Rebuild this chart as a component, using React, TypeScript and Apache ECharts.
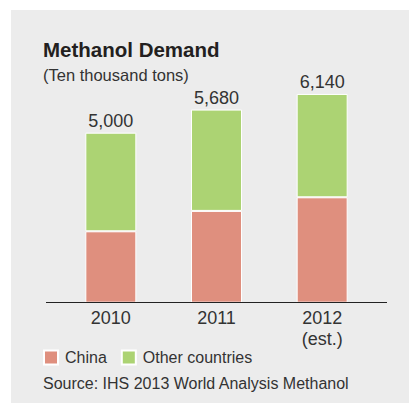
import React, { useEffect, useRef } from "react";
import * as echarts from "echarts";

const categories = ["2010", "2011", "2012\n(est.)"];
const chinaValues = [2100, 2700, 3100];
const otherValues = [2900, 2980, 3040];
const totalValues = [5000, 5680, 6140];
const seriesNames = ["China", "Other countries"];

const FONT = "'Liberation Sans', Arial, Helvetica, sans-serif";
const TEXT = "#333333";

export default function App() {
  const ref = useRef<HTMLDivElement>(null);
  useEffect(() => {
    if (!ref.current) return;
    const chart = echarts.init(ref.current, null, { renderer: "svg" });
    chart.setOption({
      animation: false,
      backgroundColor: "#ffffff",
      textStyle: { fontFamily: FONT },
      grid: { left: 58, width: 317, top: 64.7, height: 238 },
      legend: {
        data: seriesNames,
        left: 43,
        top: 349.5,
        padding: 0,
        itemWidth: 14,
        itemHeight: 14,
        itemGap: 14,
        icon: "rect",
        textStyle: { fontSize: 16, color: TEXT, fontFamily: FONT, padding: [0, 0, 0, 2] },
      },
      xAxis: {
        type: "category",
        data: categories,
        axisLine: { show: false },
        axisTick: { show: false },
        axisLabel: { fontSize: 18, color: TEXT, lineHeight: 21, margin: 5, fontFamily: FONT },
      },
      yAxis: { type: "value", min: 0, max: 7000, show: false, splitLine: { show: false } },
      series: [
        {
          name: seriesNames[0],
          type: "bar",
          stack: "total",
          data: chinaValues,
          barWidth: 51,
          itemStyle: { color: "#df8f7e", borderColor: "#ffffff", borderWidth: 1 },
        },
        {
          name: seriesNames[1],
          type: "bar",
          stack: "total",
          data: otherValues,
          barWidth: 51,
          itemStyle: { color: "#acd373", borderColor: "#ffffff", borderWidth: 1 },
          label: {
            show: true,
            position: "top",
            distance: 3,
            fontSize: 18,
            color: TEXT,
            fontFamily: FONT,
            formatter: (p: any) => totalValues[p.dataIndex].toLocaleString("en-US"),
          },
        },
      ],
      graphic: [
        {
          type: "rect",
          z: -10,
          silent: true,
          shape: { x: 11, y: 10, width: 398, height: 393 },
          style: { fill: "#ececec" },
        },
        {
          type: "line",
          z: 10,
          silent: true,
          shape: { x1: 46, y1: 302.5, x2: 387, y2: 302.5 },
          style: { stroke: "#222222", lineWidth: 1.2 },
        },
        {
          type: "text",
          x: 43,
          y: 49.5,
          style: {
            text: "Methanol Demand",
            fontSize: 20.5,
            fontWeight: "bold",
            fill: "#231f20",
            fontFamily: FONT,
            textVerticalAlign: "middle",
            verticalAlign: "middle",
          },
        },
        {
          type: "text",
          x: 43,
          y: 74.5,
          style: {
            text: "(Ten thousand tons)",
            fontSize: 16.5,
            fill: TEXT,
            fontFamily: FONT,
            verticalAlign: "middle",
          },
        },
        {
          type: "text",
          x: 43,
          y: 383,
          style: {
            text: "Source: IHS 2013 World Analysis Methanol",
            fontSize: 16,
            fill: TEXT,
            fontFamily: FONT,
            verticalAlign: "middle",
          },
        },
      ],
    });
    return () => chart.dispose();
  }, []);
  return (
    <div
      ref={ref}
      style={{ position: "fixed", left: 0, top: 0, width: 409, height: 405 }}
    />
  );
}
